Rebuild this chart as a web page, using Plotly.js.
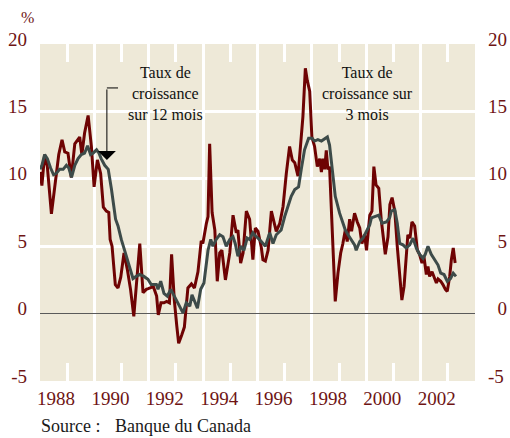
<!DOCTYPE html>
<html>
<head>
<meta charset="utf-8">
<script src="https://cdn.plot.ly/plotly-3.0.1.min.js"></script>
<style>
  body { margin: 0; background: #fff; }
  #chart { width: 510px; height: 438px; }
</style>
</head>
<body>
<div id="chart"></div>
<script>
// Taux de croissance sur 3 mois (volatile, rouge)
const dates3 = [
    1988.00, 1988.07, 1988.17, 1988.27, 1988.42, 1988.56, 1988.69, 1988.81, 1988.91, 1989.03,
    1989.15, 1989.28, 1989.37, 1989.46, 1989.54, 1989.64, 1989.77, 1989.89, 1989.99, 1990.11,
    1990.23, 1990.33, 1990.44, 1990.53, 1990.58, 1990.65, 1990.77, 1990.87, 1990.97, 1991.09,
    1991.21, 1991.33, 1991.45, 1991.54, 1991.67, 1991.79, 1991.91, 1991.98, 1992.17, 1992.29,
    1992.35, 1992.45, 1992.56, 1992.66, 1992.76, 1992.84, 1992.94, 1993.03, 1993.10, 1993.21,
    1993.31, 1993.44, 1993.57, 1993.68, 1993.81, 1993.93, 1993.99, 1994.12, 1994.18, 1994.24,
    1994.33, 1994.43, 1994.52, 1994.61, 1994.69, 1994.82, 1994.98, 1995.10, 1995.22, 1995.28,
    1995.38, 1995.47, 1995.59, 1995.71, 1995.83, 1995.92, 1996.02, 1996.14, 1996.20, 1996.29,
    1996.39, 1996.51, 1996.63, 1996.69, 1996.82, 1996.94, 1997.06, 1997.18, 1997.28, 1997.37,
    1997.49, 1997.59, 1997.67, 1997.76, 1997.83, 1997.92, 1998.00, 1998.10, 1998.20, 1998.29,
    1998.35, 1998.41, 1998.47, 1998.53, 1998.59, 1998.65, 1998.74, 1998.86, 1998.96, 1999.06,
    1999.14, 1999.23, 1999.30, 1999.39, 1999.46, 1999.57, 1999.67, 1999.76, 1999.84, 1999.94,
    2000.01, 2000.13, 2000.21, 2000.28, 2000.36, 2000.46, 2000.55, 2000.70, 2000.80, 2000.87,
    2000.95, 2001.05, 2001.14, 2001.23, 2001.31, 2001.39, 2001.47, 2001.53, 2001.61, 2001.68,
    2001.78, 2001.88, 2001.96, 2002.05, 2002.12, 2002.21, 2002.27, 2002.33, 2002.42, 2002.49,
    2002.58, 2002.64, 2002.74, 2002.82, 2002.91, 2002.98, 2003.07, 2003.13, 2003.20, 2003.27
];
const rate3 = [
    10.5, 9.5, 11.8, 10.9, 7.4, 9.9, 11.8, 12.9, 12.0, 11.9,
    10.1, 12.6, 12.9, 13.1, 11.8, 13.4, 14.7, 12.4, 9.4, 11.4,
    10.4, 7.9, 7.6, 7.5, 5.5, 5.0, 2.15, 1.9, 2.7, 4.5,
    3.3, 1.8, -0.2, 1.8, 5.2, 1.55, 1.8, 1.85, 2.0, 1.3,
    -0.1, 0.8, 0.8, 0.9, 0.8, 4.4, 1.0, -0.9, -2.2, -1.6,
    -1.0, 1.9, 2.2, 1.9, 3.1, 5.4, 5.2, 6.7, 7.2, 12.6,
    7.5, 6.2, 2.4, 4.5, 4.7, 2.5, 4.5, 7.3, 6.0, 6.2,
    3.75, 4.5, 7.6, 7.0, 4.0, 6.35, 6.1, 4.9, 4.0, 3.9,
    4.7, 7.6, 6.7, 6.1, 6.7, 7.95, 10.4, 12.4, 11.4, 11.2,
    10.2, 12.4, 14.6, 18.2, 17.3, 16.5, 13.1, 12.4, 10.9, 11.5,
    10.5, 11.5, 10.7, 12.1, 10.7, 10.9, 6.0, 0.9, 3.0, 4.5,
    5.2, 6.2, 5.35, 7.0, 6.1, 7.45, 6.8, 6.35, 5.2, 5.85,
    4.7, 7.3, 7.6, 10.9, 9.55, 9.3, 7.0, 4.4, 5.7, 8.1,
    8.6, 7.6, 5.0, 3.0, 1.0, 2.0, 4.0, 5.85, 5.6, 6.8,
    6.5, 4.7, 4.4, 3.75, 4.25, 2.9, 3.5, 2.76, 3.1, 2.76,
    2.27, 2.57, 2.4, 2.15, 1.8, 1.65, 2.76, 4.0, 4.87, 3.75
];

// Taux de croissance sur 12 mois (lisse, gris)
const dates12 = [
    1988.00, 1988.07, 1988.17, 1988.27, 1988.39, 1988.50, 1988.60, 1988.72, 1988.85, 1988.97,
    1989.06, 1989.16, 1989.28, 1989.40, 1989.52, 1989.64, 1989.75, 1989.86, 1989.95, 1990.08,
    1990.17, 1990.25, 1990.38, 1990.51, 1990.63, 1990.72, 1990.78, 1990.87, 1990.99, 1991.14,
    1991.30, 1991.42, 1991.54, 1991.67, 1991.82, 1991.97, 1992.09, 1992.28, 1992.34, 1992.44,
    1992.56, 1992.68, 1992.81, 1992.93, 1993.05, 1993.17, 1993.26, 1993.38, 1993.51, 1993.59,
    1993.69, 1993.79, 1993.91, 1994.03, 1994.18, 1994.28, 1994.36, 1994.48, 1994.61, 1994.73,
    1994.85, 1994.98, 1995.10, 1995.18, 1995.28, 1995.38, 1995.50, 1995.62, 1995.71, 1995.83,
    1995.95, 1996.02, 1996.14, 1996.29, 1996.45, 1996.57, 1996.69, 1996.87, 1997.00, 1997.12,
    1997.24, 1997.37, 1997.51, 1997.61, 1997.73, 1997.88, 1998.00, 1998.10, 1998.22, 1998.35,
    1998.47, 1998.57, 1998.65, 1998.74, 1998.86, 1999.02, 1999.14, 1999.23, 1999.33, 1999.45,
    1999.57, 1999.63, 1999.76, 1999.88, 2000.00, 2000.13, 2000.19, 2000.33, 2000.46, 2000.58,
    2000.74, 2000.86, 2000.92, 2001.05, 2001.14, 2001.23, 2001.35, 2001.47, 2001.60, 2001.72,
    2001.84, 2001.96, 2002.09, 2002.17, 2002.27, 2002.39, 2002.52, 2002.64, 2002.74, 2002.86,
    2002.98, 2003.10, 2003.20, 2003.30
];
const rate12 = [
    10.7, 11.0, 11.8, 11.5, 10.8, 10.3, 10.4, 10.7, 10.7, 11.0,
    10.8, 10.1, 11.0, 11.5, 11.8, 11.9, 12.45, 11.8, 11.9, 12.15,
    11.9, 11.5, 11.0, 10.7, 9.2, 8.0, 7.0, 6.5, 5.5, 4.5,
    3.4, 2.6, 2.76, 2.9, 2.76, 2.55, 2.15, 2.15, 1.8, 2.4,
    1.5, 1.3, 1.8, 1.3, 0.8, 0.4, 0.05, 0.8, 0.55, 1.4,
    0.9, 0.4, 1.8, 2.27, 4.7, 5.5, 5.0, 5.5, 5.85, 5.7,
    5.0, 5.5, 5.7, 5.2, 4.25, 5.0, 4.7, 5.6, 5.5, 6.0,
    5.7, 5.6, 5.35, 5.0, 6.0, 5.2, 5.85, 6.2, 7.2, 7.95,
    8.7, 9.2, 9.4, 10.7, 12.15, 13.0, 13.0, 12.8, 12.9, 12.8,
    13.0, 13.1, 12.5, 10.7, 8.7, 7.45, 6.7, 6.2, 5.85, 5.5,
    5.1, 4.7, 5.35, 5.6, 6.1, 6.6, 7.1, 7.2, 7.3, 6.7,
    6.8, 7.1, 7.6, 7.7, 6.7, 5.2, 5.1, 4.87, 5.1, 5.6,
    4.87, 4.4, 4.1, 4.4, 5.0, 4.4, 4.0, 3.6, 3.0, 2.9,
    2.4, 2.6, 3.0, 2.76
];

const yTicks = [-5, 0, 5, 10, 15, 20];
const yTickText = ['-5', '0', '5', '10', '15', '20'];
const yTickTextRight = ['-5', '\u20070', '\u20075', '10', '15', '20'];

const serif = 'Liberation Serif, Times New Roman, serif';
const labelRed = '#6E1414';
const white = '#ffffff';

// traits blancs courts (chaque annee) en haut et en bas
function yearTicks() {
    return {
        tickmode: 'linear', tick0: 1988, dtick: 2,
        showgrid: true, gridcolor: white, gridwidth: 3,
        ticks: 'inside', ticklen: 18, tickwidth: 3, tickcolor: white,
        minor: {dtick: 1, ticks: 'inside', ticklen: 18, tickwidth: 3, tickcolor: white, showgrid: false},
        zeroline: false, showline: false,
        range: [1988, 2004]
    };
}

function valueAxis(texts) {
    return {
        range: [-5, 20],
        tickmode: 'array', tickvals: yTicks, ticktext: texts,
        showgrid: true, gridcolor: white, gridwidth: 3,
        zeroline: true, zerolinecolor: '#5a5a5a', zerolinewidth: 1.2,
        showline: false, ticks: '',
        ticklabelstandoff: 12,
        ticklabelshift: -5,
        tickfont: {family: serif, size: 19, color: labelRed}
    };
}

function drawChart() {
    const trace3 = {
        x: dates3, y: rate3,
        type: 'scatter', mode: 'lines',
        line: {color: '#6E0303', width: 3},
        hoverinfo: 'skip'
    };
    const trace12 = {
        x: dates12, y: rate12,
        type: 'scatter', mode: 'lines',
        xaxis: 'x2', yaxis: 'y2',
        line: {color: '#3D4B49', width: 3},
        hoverinfo: 'skip'
    };

    const xBottom = Object.assign(yearTicks(), {
        ticklabelshift: 16,
        ticklabelstandoff: 4,
        tickfont: {family: serif, size: 19, color: labelRed}
    });
    const xTop = Object.assign(yearTicks(), {
        overlaying: 'x', side: 'top', anchor: 'y2',
        showticklabels: false
    });
    const yRight = Object.assign(valueAxis(yTickTextRight), {
        overlaying: 'y', side: 'right', anchor: 'x2'
    });

    const layout = {
        width: 510, height: 438,
        margin: {l: 40, r: 35, t: 44, b: 57},
        paper_bgcolor: '#ffffff',
        plot_bgcolor: '#EEE9D8',
        showlegend: false,
        font: {family: serif, color: labelRed, size: 19},
        xaxis: xBottom,
        xaxis2: xTop,
        yaxis: valueAxis(yTickText),
        yaxis2: yRight,
        annotations: [
            {
                text: '%', xref: 'paper', yref: 'paper', x: -0.048, y: 1.11,
                showarrow: false, font: {family: serif, size: 16, color: labelRed}
            },
            {
                text: 'Taux de<br>croissance<br>sur 12 mois', x: 1992.63, y: 16.3,
                showarrow: false, font: {family: serif, size: 16, color: '#111111'}
            },
            {
                text: 'Taux de<br>croissance sur<br>3 mois', x: 2000.03, y: 16.3,
                showarrow: false, font: {family: serif, size: 16, color: '#111111'}
            },
            {
                // fleche vers la courbe 12 mois
                text: '', x: 1990.46, y: 11.4, ax: 0, ay: -72,
                showarrow: true, arrowhead: 1, arrowsize: 3, arrowwidth: 1, arrowcolor: '#000000'
            },
            {
                text: 'Source :', xref: 'paper', yref: 'paper', x: -0.003, y: -0.134,
                xanchor: 'left', yanchor: 'middle', showarrow: false,
                font: {family: serif, size: 18, color: '#1a1a1a'}
            },
            {
                text: 'Banque du Canada', xref: 'paper', yref: 'paper', x: 0.168, y: -0.134,
                xanchor: 'left', yanchor: 'middle', showarrow: false,
                font: {family: serif, size: 18, color: '#1a1a1a'}
            }
        ],
        shapes: [
            {
                type: 'line', x0: 1990.46, x1: 1990.87, y0: 16.74, y1: 16.74,
                line: {color: '#000000', width: 1}
            }
        ]
    };

    Plotly.newPlot('chart', [trace3, trace12], layout, {staticPlot: true});
}

document.addEventListener('DOMContentLoaded', drawChart);
</script>
</body>
</html>
